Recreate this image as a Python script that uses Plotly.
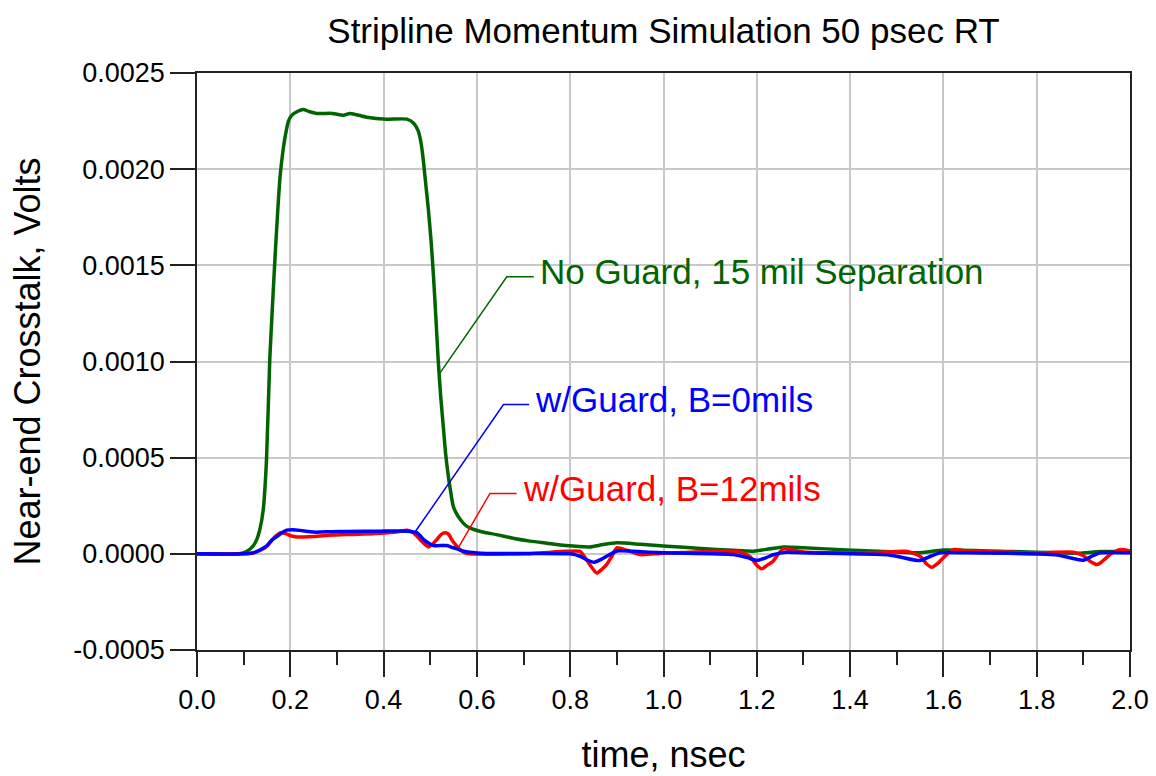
import plotly.graph_objects as go

# --- data ---
t_no_guard = [0.0, 0.09, 0.107, 0.12, 0.128, 0.135, 0.142, 0.149, 0.156, 0.162, 0.167, 0.173,
              0.178, 0.184, 0.189, 0.196, 0.203, 0.215, 0.228, 0.24, 0.257, 0.29, 0.314, 0.328,
              0.364, 0.407, 0.45, 0.464, 0.474, 0.48, 0.485, 0.49, 0.496, 0.502, 0.507, 0.512,
              0.517, 0.522, 0.528, 0.533, 0.539, 0.544, 0.549, 0.556, 0.564, 0.575, 0.585, 0.61,
              0.642, 0.68, 0.714, 0.75, 0.79, 0.842, 0.87, 0.9, 0.95, 1.007, 1.08, 1.15, 1.193,
              1.225, 1.257, 1.3, 1.393, 1.5, 1.535, 1.565, 1.6, 1.75, 1.85, 1.89, 1.936, 2.0]
v_no_guard = [0.0, 0.0, 0.000013, 0.00004, 0.000074, 0.00013, 0.00023, 0.00049, 0.00101, 0.0013,
              0.00153, 0.00178, 0.00196, 0.00209, 0.00217, 0.00225, 0.00228, 0.0023, 0.00231,
              0.0023, 0.00229, 0.00229, 0.00228, 0.00229, 0.00227, 0.00226, 0.00226, 0.00224,
              0.0022, 0.00214, 0.00205, 0.00193, 0.00179, 0.00162, 0.00144, 0.00123, 0.00101,
              0.00083, 0.00066, 0.00052, 0.0004, 0.00032, 0.00025, 0.00021, 0.00018, 0.00015,
              0.000135, 0.000115, 0.0001, 0.00008, 0.000066, 0.000055, 0.000043, 0.000036,
              0.000048, 0.000057, 0.00005, 0.00004, 0.000028, 0.000018, 0.000014, 0.000025,
              0.000036, 0.000032, 0.00002, 0.00001, 0.000005, 0.00001, 0.00002, 0.000012,
              0.000005, 0.000003, 0.000012, 0.000012]

t_b0 = [0.0, 0.1, 0.12, 0.135, 0.149, 0.16, 0.171, 0.182, 0.192, 0.205, 0.221, 0.25, 0.29,
        0.321, 0.393, 0.45, 0.471, 0.48, 0.486, 0.497, 0.507, 0.535, 0.545, 0.557, 0.57, 0.585,
        0.62, 0.8, 0.821, 0.835, 0.85, 0.865, 0.878, 0.9, 0.935, 1.0, 1.15, 1.18, 1.2, 1.22,
        1.235, 1.264, 1.3, 1.48, 1.5, 1.55, 1.575, 1.593, 1.65, 1.84, 1.857, 1.9, 1.92, 1.936, 2.0]
v_b0 = [0.0, 0.0, 0.000005, 0.00002, 0.00004, 0.00007, 0.00009, 0.00011, 0.000123, 0.000125,
        0.000122, 0.000113, 0.000115, 0.000116, 0.000118, 0.000118, 0.00011, 0.00009, 0.000074,
        0.000055, 0.000043, 0.000043, 0.000035, 0.000026, 0.000015, 0.000008, 0.000002, 0.0,
        -0.0000125, -0.00003, -0.000044, -0.00003, -0.0000125, 0.000015, 0.000013, 0.000005,
        -0.000004, -0.00002, -0.000035, -0.00002, -0.000005, 0.000008, 0.000005, -0.000005,
        -0.0000125, -0.000035, -0.00001, 0.000005, 0.000005, -0.000005, -0.0000125, -0.000033,
        -0.00001, 0.000005, 0.000005]

t_b12 = [0.0, 0.1, 0.12, 0.135, 0.15, 0.16, 0.17, 0.178, 0.19, 0.2, 0.214, 0.25, 0.29, 0.321,
         0.393, 0.43, 0.45, 0.464, 0.478, 0.488, 0.496, 0.505, 0.514, 0.523, 0.532, 0.54, 0.546,
         0.555, 0.564, 0.575, 0.585, 0.7, 0.792, 0.821, 0.832, 0.842, 0.857, 0.868, 0.878, 0.89,
         0.9, 0.921, 0.95, 1.0, 1.15, 1.17, 1.186, 1.2, 1.21, 1.222, 1.235, 1.245, 1.257, 1.3,
         1.45, 1.52, 1.55, 1.563, 1.575, 1.588, 1.6, 1.621, 1.65, 1.8, 1.878, 1.9, 1.915, 1.93,
         1.945, 1.957, 1.978, 2.0]
v_b12 = [0.0, 0.0, 0.000004, 0.000018, 0.00004, 0.00007, 0.000095, 0.000109, 0.000105, 0.000095,
         0.000088, 0.00009, 0.000098, 0.0001, 0.000107, 0.000115, 0.000123, 0.00011, 0.000074,
         0.00005, 0.000036, 0.00005, 0.000074, 0.0001, 0.000109, 0.0001, 0.000074, 0.000045,
         0.000022, 0.000005, 0.0, 0.0, 0.000013, 0.000013, -0.00002, -0.000056, -0.0001,
         -0.00008, -0.000056, -0.00001, 0.000031, 0.000019, -0.000004, 0.000003, 0.000013,
         0.000005, -0.0000156, -0.00006, -0.000078, -0.00006, -0.000038, -0.000005, 0.000026,
         0.00001, 0.000005, 0.000013, -0.0000125, -0.00005, -0.00007, -0.00005, -0.00002,
         0.000022, 0.000015, 0.000005, 0.000008, -0.00001, -0.00004, -0.000056, -0.00003,
         -0.000004, 0.000022, 0.000015]

x_ticks = [0.0, 0.2, 0.4, 0.6, 0.8, 1.0, 1.2, 1.4, 1.6, 1.8, 2.0]
y_ticks = [-0.0005, 0.0, 0.0005, 0.0010, 0.0015, 0.0020, 0.0025]
y_tick_text = ["-0.0005", "0.0000", "0.0005", "0.0010", "0.0015", "0.0020", "0.0025"]

# label text, leader line (curve point, elbow, end) in data units
labels = ["No Guard, 15 mil Separation", "w/Guard, B=0mils", "w/Guard, B=12mils"]
label_colors = ["#006400", "#0000ff", "#ff0000"]
leader_x = [[0.521, 0.664, 0.722], [0.467, 0.657, 0.712], [0.560, 0.628, 0.685]]
leader_y = [[0.000941, 0.00144, 0.00144], [0.000112, 0.000776, 0.000776], [0.000031, 0.000314, 0.000314]]

FONT = "Liberation Sans, Arial, sans-serif"

fig = go.Figure()

fig.add_trace(go.Scatter(x=t_no_guard, y=v_no_guard, mode="lines", name=labels[0],
                         line=dict(color=label_colors[0], width=3.5, shape="spline", smoothing=0.6)))
fig.add_trace(go.Scatter(x=t_b12, y=v_b12, mode="lines", name=labels[2],
                         line=dict(color=label_colors[2], width=3.5, shape="spline", smoothing=0.6)))
fig.add_trace(go.Scatter(x=t_b0, y=v_b0, mode="lines", name=labels[1],
                         line=dict(color=label_colors[1], width=3.5, shape="spline", smoothing=0.6)))

# leader lines + labels
for txt, col, lx, ly in zip(labels, label_colors, leader_x, leader_y):
    fig.add_shape(type="path", xref="x", yref="y",
                  path=f"M {lx[0]},{ly[0]} L {lx[1]},{ly[1]} L {lx[2]},{ly[2]}",
                  line=dict(color=col, width=1.5))
    fig.add_annotation(x=lx[2], y=ly[2], text=txt, showarrow=False, xanchor="left",
                       yanchor="middle", xshift=4, yshift=5,
                       font=dict(family=FONT, size=35, color=col))

fig.update_layout(
    width=1156, height=776,
    margin=dict(l=197, r=26, t=73, b=126),
    paper_bgcolor="white", plot_bgcolor="white",
    showlegend=False,
    font=dict(family=FONT, color="black"),
    title=dict(text="Stripline Momentum Simulation 50 psec RT", x=0.5, xref="paper", xanchor="center",
               y=0.961, yanchor="middle", font=dict(size=35, color="black")),
)
fig.update_xaxes(
    range=[0, 2], tickvals=x_ticks, tickformat=".1f", automargin=False,
    ticks="outside", ticklen=25, tickwidth=1.5, tickcolor="#222",
    minor=dict(ticks="outside", ticklen=13, dtick=0.1, tick0=0, tickwidth=1.5, tickcolor="#222", showgrid=False),
    showline=True, linecolor="#222", linewidth=1.5, mirror=True,
    showgrid=True, gridcolor="#c8c8c8", gridwidth=1.5, zeroline=False,
    tickfont=dict(size=27), title=dict(text="time, nsec", font=dict(size=36), standoff=28),
)
fig.update_yaxes(
    range=[-0.0005, 0.0025], tickvals=y_ticks, ticktext=y_tick_text, automargin=False,
    ticks="outside", ticklen=25, tickwidth=1.5, tickcolor="#222",
    showline=True, linecolor="#222", linewidth=1.5, mirror=True,
    showgrid=True, gridcolor="#c8c8c8", gridwidth=1.5, zeroline=False,
    tickfont=dict(size=27), title=dict(text="Near-end Crosstalk, Volts", font=dict(size=36), standoff=22),
)

# drop the browser's default page margin so the figure sits at 0,0
fig.write_html("out.html", config={"displayModeBar": False},
               post_script="document.body.style.margin='0px';")
